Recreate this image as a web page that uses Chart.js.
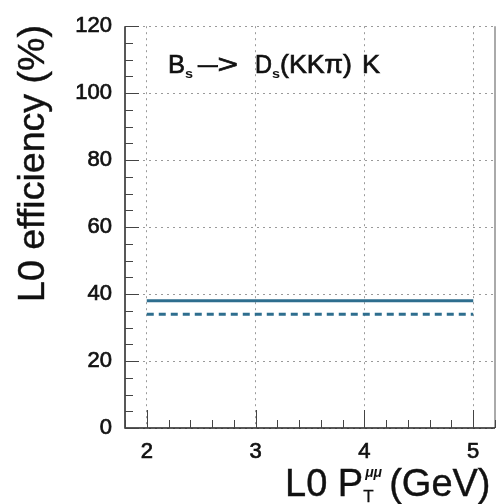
<!DOCTYPE html>
<html>
<head>
<meta charset="utf-8">
<script src="https://cdn.jsdelivr.net/npm/chart.js@4"></script>
<style>
  html, body { margin: 0; padding: 0; background: #fff; }
  #wrap { width: 498px; height: 504px; }
</style>
</head>
<body>
<div id="wrap"><canvas id="chart" width="498" height="504"></canvas></div>
<script>
  // L0 muon pT cut (GeV) and efficiency (%) for the two curves
  const ptCut = [2, 5];
  const effSolid = [38, 38];
  const effDashed = [34, 34];
  const xTicks = [2, 3, 4, 5];
  const yTicks = [0, 20, 40, 60, 80, 100, 120];

  const LINE = "#2e6e8e";
  const FONT = "'Liberation Sans', Arial, sans-serif";

  // draw a string stretched to span x0..x1 (the scanned labels run wide),
  // with a thin outline so it reads as heavy as the scan
  function fitText(ctx, s, x0, x1, y, font, stroke = 0.7) {
    ctx.font = font;
    const w = ctx.measureText(s).width;
    ctx.save();
    ctx.translate(x0, y);
    ctx.scale((x1 - x0) / w, 1);
    ctx.textAlign = "left";
    ctx.fillText(s, 0, 0);
    if (stroke) {
      ctx.lineWidth = stroke;
      ctx.strokeStyle = ctx.fillStyle;
      ctx.strokeText(s, 0, 0);
    }
    ctx.restore();
  }

  // plain text, returns the x where it ends
  function put(ctx, s, x0, y, font, stroke = 0.4) {
    ctx.font = font;
    ctx.textAlign = "left";
    ctx.fillText(s, x0, y);
    if (stroke) {
      ctx.lineWidth = stroke;
      ctx.strokeStyle = ctx.fillStyle;
      ctx.strokeText(s, x0, y);
    }
    return x0 + ctx.measureText(s).width;
  }

  // inward ticks, frame, labels — the old PAW look
  const decor = {
    id: "decor",
    afterDraw(chart) {
      const { ctx, chartArea: a, scales: { x, y } } = chart;
      ctx.save();

      // right edge, light
      ctx.strokeStyle = "#aaa";
      ctx.lineWidth = 2;
      ctx.beginPath();
      ctx.moveTo(a.right, a.top);
      ctx.lineTo(a.right, a.bottom);
      ctx.stroke();

      // axes
      ctx.strokeStyle = "#222";
      ctx.lineWidth = 1.5;
      ctx.beginPath();
      ctx.moveTo(a.left, a.top);
      ctx.lineTo(a.left, a.bottom);
      ctx.lineTo(a.right, a.bottom);
      ctx.stroke();

      ctx.lineWidth = 1;
      ctx.strokeStyle = "#444";
      ctx.beginPath();
      for (let v = 0; v <= 120.01; v += 5) {
        const py = Math.round(y.getPixelForValue(v)) + 0.5;
        const len = v % 20 === 0 ? 14 : 8;
        ctx.moveTo(a.left, py);
        ctx.lineTo(a.left + len, py);
      }
      for (let v = 1.8; v <= 5.21; v += 0.2) {
        const px = Math.round(x.getPixelForValue(v)) + 0.5;
        const major = Math.abs(v - Math.round(v)) < 0.01;
        ctx.moveTo(px, a.bottom);
        ctx.lineTo(px, a.bottom - (major ? 18 : 8));
      }
      ctx.stroke();

      ctx.fillStyle = "#111";
      ctx.textBaseline = "alphabetic";

      // y title, reading upward
      ctx.save();
      ctx.translate(44, 0);
      ctx.rotate(-Math.PI / 2);
      fitText(ctx, "L0 efficiency (%)", -302, -25, 0, `36px ${FONT}`, 0.4);
      ctx.restore();

      // x title with sub/superscript
      const base = 496;
      const tf = `38px ${FONT}`;
      let cx = put(ctx, "L0 P", 285, base, tf);
      put(ctx, "T", cx, base + 6, `17px ${FONT}`, 0.3);
      put(ctx, "\u03bc\u03bc", cx + 2, base - 19, `italic bold 14px ${FONT}`, 0);
      cx += 26;
      put(ctx, "(GeV)", cx, base, tf);

      // decay label
      const tb = 73;
      const big = `26px ${FONT}`;
      const sub = `bold 12px ${FONT}`;
      fitText(ctx, "B", 168, 185, tb, big);
      fitText(ctx, "s", 185, 193, tb + 5, sub, 0);
      fitText(ctx, "\u2013>", 198, 238, tb, big);
      fitText(ctx, "D", 255, 272, tb, big);
      fitText(ctx, "s", 272, 280, tb + 5, sub, 0);
      fitText(ctx, "(KK\u03c0)", 280, 352, tb, big);
      fitText(ctx, "K", 362, 380, tb, big);

      ctx.restore();
    },
  };

  const gridOpts = { color: "#9a9a9a", lineWidth: 1, drawTicks: false };
  const tickOpts = (pad) => ({
    color: "#111",
    font: { family: FONT, size: 22 },
    padding: pad,
    textStrokeColor: "#111",
    textStrokeWidth: 0.7,
  });

  new Chart(document.getElementById("chart"), {
    type: "line",
    data: {
      datasets: [
        {
          label: "solid",
          data: ptCut.map((p, i) => ({ x: p, y: effSolid[i] })),
          borderColor: LINE,
          borderWidth: 3,
          pointRadius: 0,
          fill: false,
        },
        {
          label: "dashed",
          data: ptCut.map((p, i) => ({ x: p, y: effDashed[i] })),
          borderColor: LINE,
          borderWidth: 3,
          borderDash: [7, 5],
          pointRadius: 0,
          fill: false,
        },
      ],
    },
    options: {
      responsive: false,
      animation: false,
      devicePixelRatio: 1,
      layout: { padding: { top: 20, right: 3, left: 0, bottom: 0 } },
      plugins: { legend: { display: false }, tooltip: { enabled: false } },
      scales: {
        x: {
          type: "linear",
          min: 1.8,
          max: 5.2,
          afterBuildTicks: (s) => { s.ticks = xTicks.map((v) => ({ value: v })); },
          afterFit: (s) => { s.height = 76; },
          grid: gridOpts,
          border: { display: false, dash: [2, 4] },
          ticks: tickOpts(11),
        },
        y: {
          min: 0,
          max: 120,
          afterBuildTicks: (s) => { s.ticks = yTicks.map((v) => ({ value: v })); },
          afterFit: (s) => { s.width = 125; },
          grid: gridOpts,
          border: { display: false, dash: [2, 4] },
          ticks: tickOpts(13),
        },
      },
    },
    plugins: [decor],
  });
</script>
</body>
</html>
